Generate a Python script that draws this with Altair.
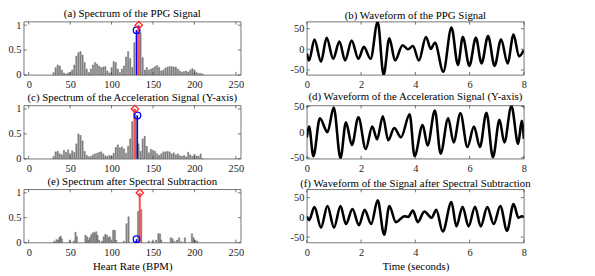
import altair as alt
import pandas as pd

FONT = "Liberation Serif"
W, H = 220, 54

# ---------------- spectra (left column) ----------------
SPEC_BPM = [30 + 2.5 * i for i in range(73)]
PPG_SPEC = [0.05, 0.15, 0.2, 0.18, 0.1, 0.04, 0.02, 0.04, 0.06, 0.1,
            0.2, 0.38, 0.45, 0.47, 0.4, 0.25, 0.12, 0.05, 0.12, 0.2,
            0.25, 0.22, 0.18, 0.15, 0.16, 0.17, 0.08, 0.04, 0.15, 0.27,
            0.25, 0.12, 0.05, 0.12, 0.18, 0.36, 0.47, 0.33, 0.15, 0.65,
            0.9, 1.0, 0.85, 0.35, 0.1, 0.15, 0.1, 0.12, 0.14, 0.17,
            0.19, 0.15, 0.08, 0.1, 0.14, 0.16, 0.17, 0.17, 0.16, 0.16,
            0.12, 0.08, 0.06, 0.07, 0.08, 0.06, 0.1, 0.13, 0.1, 0.05,
            0.03, 0.03, 0.02]
ACC_SPEC = [0.05, 0.14, 0.15, 0.1, 0.08, 0.17, 0.13, 0.18, 0.1, 0.16,
            0.13, 0.3, 0.5, 0.47, 0.36, 0.15, 0.07, 0.04, 0.05, 0.08,
            0.1, 0.11, 0.13, 0.14, 0.1, 0.06, 0.05, 0.07, 0.06, 0.11,
            0.23, 0.28, 0.22, 0.24, 0.2, 0.11, 0.25, 0.4, 0.75, 1.0,
            0.87, 0.3, 0.15, 0.4, 0.45, 0.25, 0.12, 0.19, 0.17, 0.15,
            0.1, 0.07, 0.1, 0.14, 0.14, 0.15, 0.14, 0.1, 0.12, 0.08,
            0.1, 0.06, 0.05, 0.07, 0.04, 0.13, 0.08, 0.05, 0.09, 0.06,
            0.05, 0.1, 0.0]
SUB_BPM = [31, 33.5, 35.5, 37, 38.5, 40, 49.5, 54.5, 56.5, 58,
           68.5, 70.5, 72, 73.5, 75.5, 77.5, 79.5, 81.5, 83, 85,
           88.5, 90.5, 92.5, 94.5, 96.5, 98, 102, 104, 105.5, 115,
           118, 120.5, 128.5, 132, 135.8, 145, 149.5, 153.5, 156.5, 158.5,
           160, 171.5, 173.5, 175.5, 179, 181.5, 184.5, 188.5, 197, 199,
           201, 203.5]
SUB_SPEC = [0.03, 0.06, 0.05, 0.1, 0.13, 0.08, 0.04, 0.03, 0.21, 0.12,
            0.15, 0.12, 0.05, 0.1, 0.16, 0.2, 0.2, 0.22, 0.15, 0.05,
            0.03, 0.12, 0.17, 0.15, 0.1, 0.12, 0.25, 0.25, 0.05, 0.03,
            0.38, 0.52, 0.03, 0.63, 0.67, 0.03, 0.03, 0.05, 0.18, 0.18,
            0.05, 0.1, 0.08, 0.03, 0.05, 0.1, 0.02, 0.1, 0.18, 0.1,
            0.05, 0.03]

# (bpm, height) of ground-truth (blue) and estimate (red) stems
PPG_BLUE, PPG_RED = (130.2, 0.90), (132.8, 1.0)
ACC_BLUE, ACC_RED = (131.2, 0.87), (128.2, 1.0)
SUB_BLUE, SUB_RED = (130.1, 0.07), (134.0, 1.0)

# ---------------- waveforms (right column) ----------------
PPG_T = [0, 0.08, 0.28, 0.52, 0.73, 0.97, 1.2, 1.41, 1.65, 1.9, 2.1, 2.35,
         2.61, 2.83, 3.04, 3.25, 3.53, 3.73, 3.91, 4.13, 4.39, 4.57, 4.72, 5.03,
         5.33, 5.57, 5.75, 5.99, 6.23, 6.44, 6.68, 6.92, 7.16, 7.40, 7.62, 7.82, 8.0]
PPG_V = [-10, -27, 24, -30, 28, -23, 19, -27, 21, -23, 6, -23,
         67, -62, 27, -27, 10, 0, 8, -27, 30, 1, 16, -54,
         53, -38, 30, -40, 28, -34, 32, -40, 24, -34, 36, -17, -2]
ACC_T = [0, 0.08, 0.24, 0.48, 0.76, 0.99, 1.24, 1.44, 1.66, 1.9, 2.17, 2.41,
         2.59, 2.80, 3.0, 3.22, 3.47, 3.79, 3.97, 4.27, 4.45, 4.72, 4.93, 5.21,
         5.41, 5.66, 5.92, 6.16, 6.38, 6.62, 6.86, 7.1, 7.28, 7.54, 7.79, 7.92, 8.0]
ACC_V = [-10, 11, -47, 27, 0, 48, -51, 19, -25, 29, -33, 11,
         -14, 31, -16, 8, -10, 35, -47, 14, -26, 42, -42, 27,
         -20, 37, -29, 11, -29, 38, -49, 24, -20, 51, -23, 22, -13]
SUB_T = [0, 0.08, 0.28, 0.52, 0.76, 1.0, 1.24, 1.44, 1.68, 1.92, 2.13, 2.37,
         2.61, 2.85, 3.04, 3.28, 3.6, 3.73, 3.91, 4.09, 4.33, 4.6, 4.77, 5.01,
         5.33, 5.51, 5.74, 5.96, 6.2, 6.41, 6.65, 6.89, 7.13, 7.38, 7.62, 7.8, 7.93, 8.0]
SUB_V = [2, -7, 26, -26, 29, -26, 29, -17, 21, -20, 19, -17,
         43, -44, 29, -12, 3, 1, 17, -12, 15, -1, 19, -36,
         39, -23, 27, -23, 27, -23, 26, -17, 29, -34, 34, -1, 3, 0]

SPEC_XTICKS = [0, 50, 100, 150, 200, 250]
SPEC_YTICKS = [0, 0.5, 1]
WAVE_XTICKS = [0, 2, 4, 6, 8]
WAVE_YTICKS = [-50, 0, 50]

TITLES = ["(a) Spectrum of the PPG Signal",
          "(b) Waveform of the PPG Signal",
          "(c) Spectrum of the Acceleration Signal (Y-axis)",
          "(d) Waveform of the Acceleration Signal (Y-axis)",
          "(e) Spectrum after Spectral Subtraction",
          "(f) Waveform of the Signal after Spectral Subtraction"]

TICK_COLOR = "#3a3a3a"
LABEL_EXPR = "'' + datum.value"


def title_params(text):
    return alt.TitleParams(text, font=FONT, fontSize=11, fontWeight="normal",
                           color="black", anchor="middle", offset=0, frame="group")


def axis_x(values, title):
    kw = dict(values=values, labelFlush=False, labelOverlap=False,
              labelExpr=LABEL_EXPR, labelPadding=5)
    kw["title"] = title if title else None
    return alt.Axis(**kw)


def axis_y(values):
    return alt.Axis(values=values, title=None, labelOverlap=False, labelFlush=False,
                    labelExpr=LABEL_EXPR, labelPadding=3)


def inner_ticks(xs, ys, xf, yf, xvals, yvals, xaxis, yaxis):
    xdf = pd.DataFrame({xf: xvals})
    ydf = pd.DataFrame({yf: yvals})
    layers = []
    for y0, y1 in ((H, H - 3), (0, 3)):
        layers.append(alt.Chart(xdf).mark_rule(color=TICK_COLOR, strokeWidth=0.7).encode(
            x=alt.X(f"{xf}:Q", scale=xs, axis=xaxis), y=alt.value(y0), y2=alt.value(y1)))
    for x0, x1 in ((0, 3), (W, W - 3)):
        layers.append(alt.Chart(ydf).mark_rule(color=TICK_COLOR, strokeWidth=0.7).encode(
            y=alt.Y(f"{yf}:Q", scale=ys, axis=yaxis), x=alt.value(x0), x2=alt.value(x1)))
    return layers


def spectrum_panel(title, bpm, vals, blue, red, xtitle=""):
    xs = alt.Scale(domain=[0, 250], nice=False, zero=False)
    ys = alt.Scale(domain=[0, 1.07], nice=False)
    xa = axis_x(SPEC_XTICKS, xtitle)
    ya = axis_y(SPEC_YTICKS)
    df = pd.DataFrame({"bpm": bpm, "amp": vals})
    bars = alt.Chart(df).mark_bar(width=1.4, color="#8a8a8a", stroke="#505050",
                                  strokeWidth=0.3).encode(
        x=alt.X("bpm:Q", scale=xs, axis=xa),
        y=alt.Y("amp:Q", scale=ys, axis=ya))
    bdf = pd.DataFrame({"bpm": [blue[0]], "amp": [blue[1]]})
    rdf = pd.DataFrame({"bpm": [red[0]], "amp": [red[1]]})
    enc = dict(x=alt.X("bpm:Q", scale=xs, axis=xa), y=alt.Y("amp:Q", scale=ys, axis=ya))
    blue_rule = alt.Chart(bdf).mark_rule(color="#0000ff", strokeWidth=1.4).encode(
        y2=alt.datum(0), **enc)
    red_rule = alt.Chart(rdf).mark_rule(color="#ff4d4d", strokeWidth=2).encode(
        y2=alt.datum(0), **enc)
    blue_pt = alt.Chart(bdf).mark_point(shape="circle", filled=False, color="#0000ff",
                                        size=45, strokeWidth=1.3, opacity=1).encode(**enc)
    red_pt = alt.Chart(rdf).mark_point(shape="diamond", filled=False, color="#ff2020",
                                       size=55, strokeWidth=1.3, opacity=1).encode(**enc)
    layers = [bars, blue_rule, red_rule, blue_pt, red_pt] + \
        inner_ticks(xs, ys, "bpm", "amp", SPEC_XTICKS, SPEC_YTICKS, xa, ya)
    return alt.layer(*layers).properties(width=W, height=H, title=title_params(title))


def wave_panel(title, t, v, ydom, xtitle=""):
    xs = alt.Scale(domain=[0, 8], nice=False, zero=False)
    ys = alt.Scale(domain=ydom, nice=False, zero=False)
    xa = axis_x(WAVE_XTICKS, xtitle)
    ya = axis_y(WAVE_YTICKS)
    df = pd.DataFrame({"t": t, "v": v})
    line = alt.Chart(df).mark_line(interpolate="monotone", color="black",
                                   strokeWidth=2.6, clip=True).encode(
        x=alt.X("t:Q", scale=xs, axis=xa),
        y=alt.Y("v:Q", scale=ys, axis=ya))
    layers = [line] + inner_ticks(xs, ys, "t", "v", WAVE_XTICKS, WAVE_YTICKS, xa, ya)
    return alt.layer(*layers).properties(width=W, height=H, title=title_params(title))


panels = [
    spectrum_panel(TITLES[0], SPEC_BPM, PPG_SPEC, PPG_BLUE, PPG_RED),
    wave_panel(TITLES[1], PPG_T, PPG_V, [-62, 67]),
    spectrum_panel(TITLES[2], SPEC_BPM, ACC_SPEC, ACC_BLUE, ACC_RED),
    wave_panel(TITLES[3], ACC_T, ACC_V, [-52, 52]),
    spectrum_panel(TITLES[4], SUB_BPM, SUB_SPEC, SUB_BLUE, SUB_RED, "Heart Rate (BPM)"),
    wave_panel(TITLES[5], SUB_T, SUB_V, [-64, 71], "Time (seconds)"),
]

chart = alt.concat(*panels, columns=2, spacing={"row": 31, "column": 67},
                   bounds="flush").properties(
    autosize=alt.AutoSizeParams(type="none"),
    padding={"left": 16, "top": 12, "right": 571, "bottom": 256},
    background="white",
).configure_axis(
    labelFont=FONT, labelFontSize=10.5, labelColor="#1a1a1a", labelOverlap=False,
    titleFont=FONT, titleFontSize=11, titleFontWeight="normal", titleColor="black",
    titlePadding=3, grid=False, ticks=False, domain=False,
).configure_view(stroke="#3a3a3a", strokeWidth=0.7)

chart.save("out.html", embed_options={"renderer": "svg", "actions": False})
